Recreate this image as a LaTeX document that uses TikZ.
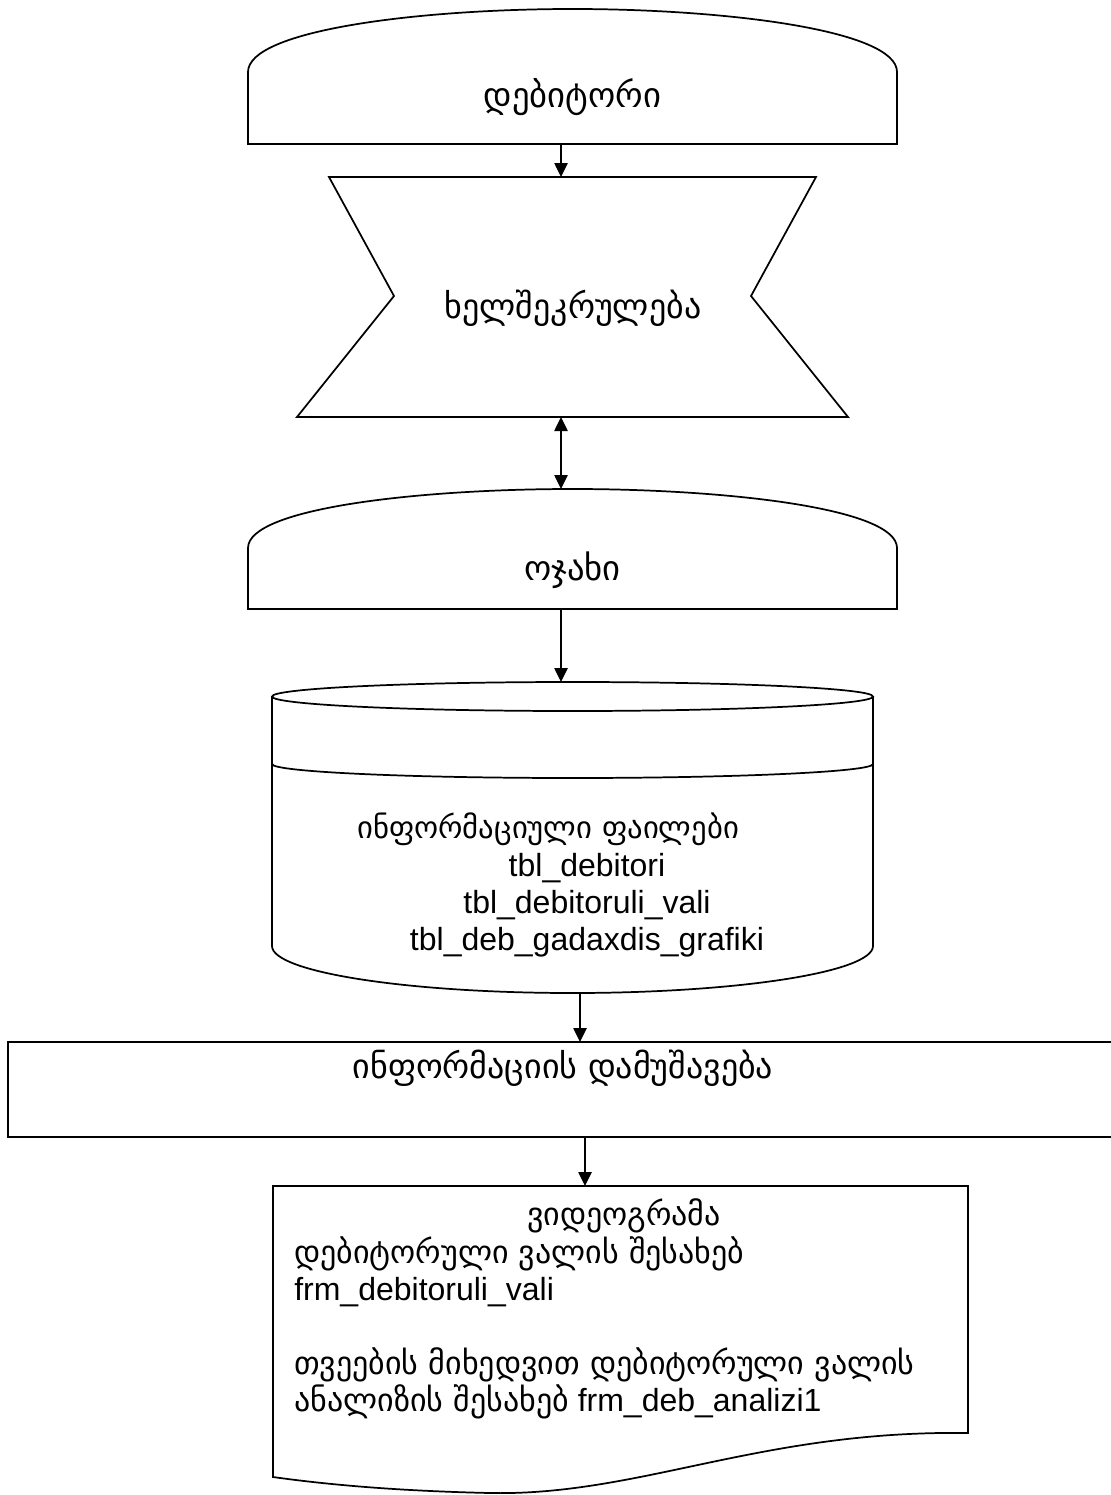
\documentclass[tikz,border=0pt]{standalone}
\usepackage{fontspec}
\setmainfont{Liberation Sans}
\newfontfamily\geofont{DejaVu Sans}
\usetikzlibrary{arrows.meta,fit}
\newcommand{\geo}[2][24]{{\geofont\fontsize{#1}{27.75}\selectfont #2}}

\tikzset{
    outline/.style={line width=1.3pt},
    frame/.style={inner sep=0pt, outer sep=0pt},
    link/.style={line width=1.1pt},
    txt/.style={inner sep=0pt, font=\fontsize{24}{27.75}\selectfont},
}

\begin{document}
\begin{tikzpicture}[x=0.75pt, y=-0.75pt, >={Triangle[length=10.5pt,width=10pt]}]
    \useasboundingbox (0,0) rectangle (1110,1495);

    % Connector axes
    \coordinate (axA) at (561,0);
    \coordinate (axB) at (580,0);
    \coordinate (axC) at (585,0);

    % Debtor (domed box)
    \node[frame, fit={(248,9) (897,144)}] (debitor) {};
    \draw[outline] (248,144) -- (897,144) -- (897,72) .. controls (897,30) and (725,9) .. (572.5,9)
        .. controls (420,9) and (248,30) .. (248,72) -- cycle;
    \node[txt, anchor=base] (debitor-txt) at (572.5,108) {\geo[26]{დებიტორი}};

    % Contract (hourglass)
    \node[frame, fit={(297,177) (848,417)}] (contract) {};
    \draw[outline] (329,177) -- (816,177) -- (751,296) -- (848,417) -- (297,417) -- (394,296) -- cycle;
    \node[txt, anchor=base] (contract-txt) at (573,318) {\geo[25.5]{ხელშეკრულება}};

    % Family (domed box)
    \node[frame, fit={(248,489) (897,609)}] (family) {};
    \draw[outline] (248,609) -- (897,609) -- (897,548) .. controls (897,508) and (725,489) .. (572.5,489)
        .. controls (420,489) and (248,508) .. (248,548) -- cycle;
    \node[txt, anchor=base] (family-txt) at (572.5,580) {\geo[26]{ოჯახი}};

    % Information files (cylinder)
    \node[frame, fit={(272,682) (873,993)}] (files) {};
    \draw[outline] (272,696.5) -- (272,946) arc[start angle=180, end angle=0, x radius=300.5, y radius=47] -- (873,696.5);
    \draw[outline] (572.5,696.5) ellipse [x radius=300.5, y radius=14.5];
    \draw[outline] (272,764) arc[start angle=180, end angle=0, x radius=300.5, y radius=14];
    \node[txt, anchor=base west] (files-title) at (357,838) {\geo[23]{ინფორმაციული ფაილები}};
    \node[txt, anchor=base, align=center] (files-list) at (587,950)
        {tbl\_debitori\\tbl\_debitoruli\_vali\\tbl\_deb\_gadaxdis\_grafiki};

    % Processing (wide box)
    \node[frame, fit={(8,1042) (1118,1137)}] (process) {};
    \draw[outline] (8,1042) rectangle (1118,1137);
    \node[txt, anchor=base] (process-txt) at (563,1078) {\geo[25.5]{ინფორმაციის დამუშავება}};

    % Videogram (document)
    \node[frame, fit={(273,1186) (968,1495)}] (report) {};
    \draw[outline] (273,1186) -- (968,1186) -- (968,1433) .. controls (760,1430) and (640,1496) .. (490,1493)
        .. controls (400,1491) and (330,1485) .. (273,1477) -- cycle;
    \node[txt, anchor=base] (report-title) at (624,1225) {\geo{ვიდეოგრამა}};
    \node[txt, anchor=base west, align=left] (report-txt) at (294,1411)
        {\geo{დებიტორული ვალის შესახებ}\\frm\_debitoruli\_vali\\[27.75pt]
         \geo{თვეების მიხედვით დებიტორული ვალის}\\\geo{ანალიზის შესახებ} frm\_deb\_analizi1};

    % Connectors
    \draw[link,->] (debitor.south -| axA) -- (contract.north -| axA);
    \draw[link,<->] (contract.south -| axA) -- (family.north -| axA);
    \draw[link,->] (family.south -| axA) -- (files.north -| axA);
    \draw[link,->] (files.south -| axB) -- (process.north -| axB);
    \draw[link,->] (process.south -| axC) -- (report.north -| axC);
\end{tikzpicture}
\end{document}
